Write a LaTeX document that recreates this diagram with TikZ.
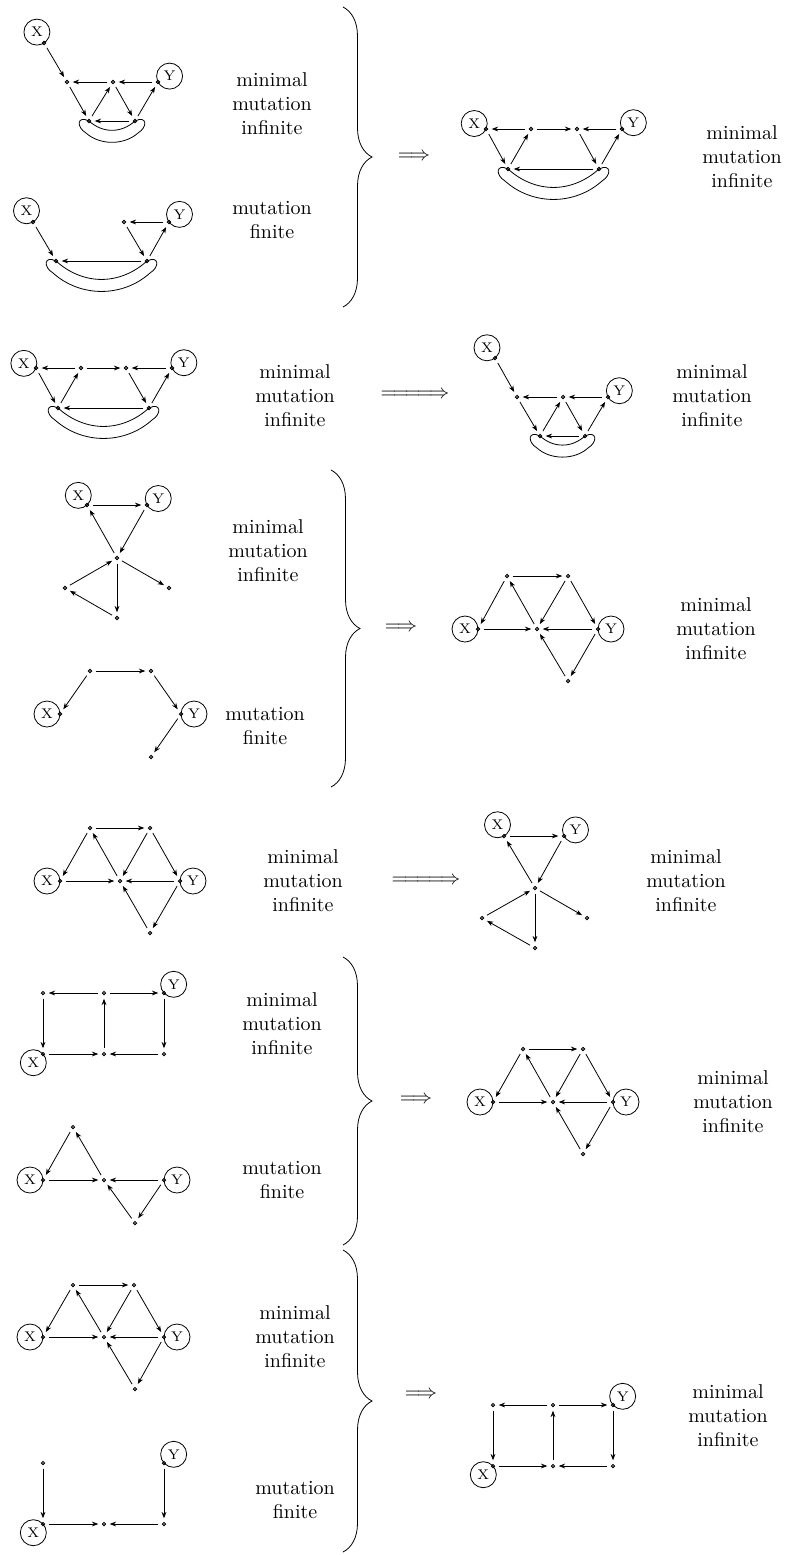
\documentclass[tikz,border=0pt]{standalone}
\usepackage{amsmath}
\usepackage{amssymb}
\usepackage{tikz}
\usetikzlibrary{arrows.meta, calc, decorations.pathreplacing}

\tikzset{
  vx/.style={circle, draw, fill=gray!70, inner sep=0pt, minimum size=1.7pt, outer sep=0pt},
  lbl/.style={circle, draw, inner sep=0pt, minimum size=13pt, outer sep=0pt, font=\scriptsize},
  arr/.style={-{Stealth[length=3.2pt,width=2.4pt]}, shorten >=2pt, shorten <=2pt},
  txt/.style={align=center},
  brc/.style={decorate, decoration={brace, amplitude=14.5pt}},
}

% long implication sign
\newcommand{\longimp}{\Relbar\joinrel\Relbar\joinrel\Relbar\joinrel\Longrightarrow}

% band below two vertices: left, right, distance in px
\newcommand{\band}[3]{%
  \draw (#1.center) .. controls +(0.3*#3,0.27*#3) and +(-0.3*#3,0.27*#3) .. (#2.center)
    .. controls +(12,-6) and +(10,-6) .. ([shift={(3,12)}]#2.center)
    .. controls +(-0.3*#3,0.27*#3) and +(0.3*#3,0.27*#3) .. ([shift={(-3,12)}]#1.center)
    .. controls +(-10,-6) and +(-12,-6) .. (#1.center);}

\begin{document}
\begin{tikzpicture}[x=0.5pt, y=-0.5pt]
    \useasboundingbox (0,0) rectangle (790,1555);

    % ---------- first block ----------
    % quiver 1
    \node[vx] (x1) at (44,43) {};
    \node[vx] (a1) at (67,82) {};
    \node[vx] (b1) at (113,82) {};
    \node[vx] (y1) at (158,82) {};
    \node[vx] (c1) at (89,121) {};
    \node[vx] (d1) at (135,121) {};
    \node[lbl, anchor=-57] (X1) at (x1) {X};
    \node[lbl, anchor=207] (Y1) at (y1) {Y};
    \draw[arr] (x1) -- (a1);
    \draw[arr] (b1) -- (a1);
    \draw[arr] (y1) -- (b1);
    \draw[arr] (a1) -- (c1);
    \draw[arr] (c1) -- (b1);
    \draw[arr] (b1) -- (d1);
    \draw[arr] (d1) -- (y1);
    \draw[arr] (d1) -- (c1);
    \band{c1}{d1}{46}
    \node[txt] (t1) at (272,104) {minimal\\mutation\\infinite};

    % quiver 2
    \node[vx] (x2) at (33,222) {};
    \node[vx] (e2) at (124,222) {};
    \node[vx] (y2) at (169,222) {};
    \node[vx] (c2) at (56,261) {};
    \node[vx] (d2) at (147,261) {};
    \node[lbl, anchor=-60] (X2) at (x2) {X};
    \node[lbl, anchor=216] (Y2) at (y2) {Y};
    \draw[arr] (x2) -- (c2);
    \draw[arr] (y2) -- (e2);
    \draw[arr] (e2) -- (d2);
    \draw[arr] (d2) -- (y2);
    \draw[arr] (d2) -- (c2);
    \band{c2}{d2}{91}
    \node[txt] (t2) at (272,220) {mutation\\finite};

    \draw[brc] (343,7) -- (343,307);
    \node (i1) at (414,157) {$\Longrightarrow$};

    % quiver 3
    \node[vx] (x3) at (486,129) {};
    \node[vx] (f3) at (531,129) {};
    \node[vx] (g3) at (577,129) {};
    \node[vx] (y3) at (622,129) {};
    \node[vx] (c3) at (508,169) {};
    \node[vx] (d3) at (599,169) {};
    \node[lbl, anchor=-25] (X3) at (x3) {X};
    \node[lbl, anchor=209] (Y3) at (y3) {Y};
    \draw[arr] (f3) -- (x3);
    \draw[arr] (f3) -- (g3);
    \draw[arr] (y3) -- (g3);
    \draw[arr] (x3) -- (c3);
    \draw[arr] (c3) -- (f3);
    \draw[arr] (g3) -- (d3);
    \draw[arr] (d3) -- (y3);
    \draw[arr] (d3) -- (c3);
    \band{c3}{d3}{91}
    \node[txt] (t3) at (742,157) {minimal\\mutation\\infinite};

    % ---------- second block ----------
    % quiver 4
    \node[vx] (x4) at (36,368) {};
    \node[vx] (f4) at (81,368) {};
    \node[vx] (g4) at (126,368) {};
    \node[vx] (y4) at (172,368) {};
    \node[vx] (c4) at (58,408) {};
    \node[vx] (d4) at (149,408) {};
    \node[lbl, anchor=-21] (X4) at (x4) {X};
    \node[lbl, anchor=204] (Y4) at (y4) {Y};
    \draw[arr] (f4) -- (x4);
    \draw[arr] (f4) -- (g4);
    \draw[arr] (y4) -- (g4);
    \draw[arr] (x4) -- (c4);
    \draw[arr] (c4) -- (f4);
    \draw[arr] (g4) -- (d4);
    \draw[arr] (d4) -- (y4);
    \draw[arr] (d4) -- (c4);
    \band{c4}{d4}{91}
    \node[txt] (t4) at (295,396) {minimal\\mutation\\infinite};

    \node (i2) at (415,395) {$\longimp$};

    % quiver 5
    \node[vx] (x5) at (495,358) {};
    \node[vx] (a5) at (517,397) {};
    \node[vx] (b5) at (563,397) {};
    \node[vx] (y5) at (608,397) {};
    \node[vx] (c5) at (540,436) {};
    \node[vx] (d5) at (585,436) {};
    \node[lbl, anchor=-52] (X5) at (x5) {X};
    \node[lbl, anchor=209] (Y5) at (y5) {Y};
    \draw[arr] (x5) -- (a5);
    \draw[arr] (b5) -- (a5);
    \draw[arr] (y5) -- (b5);
    \draw[arr] (a5) -- (c5);
    \draw[arr] (c5) -- (b5);
    \draw[arr] (b5) -- (d5);
    \draw[arr] (d5) -- (y5);
    \draw[arr] (d5) -- (c5);
    \band{c5}{d5}{45}
    \node[txt] (t5) at (712,396) {minimal\\mutation\\infinite};

    % ---------- third block ----------
    % quiver 6
    \node[vx] (x6) at (87,505) {};
    \node[vx] (y6) at (147,505) {};
    \node[vx] (m6) at (117,558) {};
    \node[vx] (l6) at (65,588) {};
    \node[vx] (r6) at (169,588) {};
    \node[vx] (w6) at (117,618) {};
    \node[lbl, anchor=-48] (X6) at (x6) {X};
    \node[lbl, anchor=210] (Y6) at (y6) {Y};
    \draw[arr] (x6) -- (y6);
    \draw[arr] (y6) -- (m6);
    \draw[arr] (m6) -- (x6);
    \draw[arr] (l6) -- (m6);
    \draw[arr] (m6) -- (r6);
    \draw[arr] (m6) -- (w6);
    \draw[arr] (w6) -- (l6);
    \node[txt] (t6) at (268,551) {minimal\\mutation\\infinite};

    % quiver 7
    \node[vx] (p7) at (90,671) {};
    \node[vx] (q7) at (151,671) {};
    \node[vx] (x7) at (60,714) {};
    \node[vx] (y7) at (181,714) {};
    \node[vx] (s7) at (151,757) {};
    \node[lbl, anchor=0] (X7) at (x7) {X};
    \node[lbl, anchor=180] (Y7) at (y7) {Y};
    \draw[arr] (p7) -- (q7);
    \draw[arr] (p7) -- (x7);
    \draw[arr] (q7) -- (y7);
    \draw[arr] (y7) -- (s7);
    \node[txt] (t7) at (265,726) {mutation\\finite};

    \draw[brc] (331,470) -- (331,787);
    \node (i3) at (401,628) {$\Longrightarrow$};

    % quiver 8
    \node[vx] (t8) at (507,576) {};
    \node[vx] (u8) at (568,576) {};
    \node[vx] (x8) at (478,629) {};
    \node[vx] (m8) at (537,629) {};
    \node[vx] (y8) at (598,629) {};
    \node[vx] (w8) at (568,681) {};
    \node[lbl, anchor=0] (X8) at (x8) {X};
    \node[lbl, anchor=180] (Y8) at (y8) {Y};
    \draw[arr] (t8) -- (u8);
    \draw[arr] (t8) -- (x8);
    \draw[arr] (m8) -- (t8);
    \draw[arr] (u8) -- (m8);
    \draw[arr] (u8) -- (y8);
    \draw[arr] (x8) -- (m8);
    \draw[arr] (y8) -- (m8);
    \draw[arr] (y8) -- (w8);
    \draw[arr] (w8) -- (m8);
    \node[txt] (tt8) at (716,629) {minimal\\mutation\\infinite};

    % ---------- fourth block ----------
    % quiver 9
    \node[vx] (t9) at (90,828) {};
    \node[vx] (u9) at (150,828) {};
    \node[vx] (x9) at (60,881) {};
    \node[vx] (m9) at (120,881) {};
    \node[vx] (y9) at (180,881) {};
    \node[vx] (w9) at (150,933) {};
    \node[lbl, anchor=0] (X9) at (x9) {X};
    \node[lbl, anchor=180] (Y9) at (y9) {Y};
    \draw[arr] (t9) -- (u9);
    \draw[arr] (t9) -- (x9);
    \draw[arr] (m9) -- (t9);
    \draw[arr] (u9) -- (m9);
    \draw[arr] (u9) -- (y9);
    \draw[arr] (x9) -- (m9);
    \draw[arr] (y9) -- (m9);
    \draw[arr] (y9) -- (w9);
    \draw[arr] (w9) -- (m9);
    \node[txt] (tt9) at (303,881) {minimal\\mutation\\infinite};

    \node (i4) at (426,881) {$\longimp$};

    % quiver 10
    \node[vx] (x10) at (504,836) {};
    \node[vx] (y10) at (564,836) {};
    \node[vx] (m10) at (535,888) {};
    \node[vx] (l10) at (482,918) {};
    \node[vx] (r10) at (587,918) {};
    \node[vx] (w10) at (535,948) {};
    \node[lbl, anchor=-60] (X10) at (x10) {X};
    \node[lbl, anchor=208] (Y10) at (y10) {Y};
    \draw[arr] (x10) -- (y10);
    \draw[arr] (y10) -- (m10);
    \draw[arr] (m10) -- (x10);
    \draw[arr] (l10) -- (m10);
    \draw[arr] (m10) -- (r10);
    \draw[arr] (m10) -- (w10);
    \draw[arr] (w10) -- (l10);
    \node[txt] (tt10) at (686,881) {minimal\\mutation\\infinite};

    % ---------- fifth block ----------
    % quiver 11
    \node[vx] (k11) at (43,993) {};
    \node[vx] (n11) at (104,993) {};
    \node[vx] (y11) at (164,993) {};
    \node[vx] (x11) at (43,1054) {};
    \node[vx] (m11) at (104,1054) {};
    \node[vx] (r11) at (164,1054) {};
    \node[lbl, anchor=42] (X11) at (x11) {X};
    \node[lbl, anchor=222] (Y11) at (y11) {Y};
    \draw[arr] (n11) -- (k11);
    \draw[arr] (n11) -- (y11);
    \draw[arr] (k11) -- (x11);
    \draw[arr] (m11) -- (n11);
    \draw[arr] (y11) -- (r11);
    \draw[arr] (x11) -- (m11);
    \draw[arr] (r11) -- (m11);
    \node[txt] (tt11) at (282,1024) {minimal\\mutation\\infinite};

    % quiver 12
    \node[vx] (t12) at (73,1127) {};
    \node[vx] (x12) at (43,1180) {};
    \node[vx] (m12) at (104,1180) {};
    \node[vx] (y12) at (164,1180) {};
    \node[vx] (w12) at (135,1223) {};
    \node[lbl, anchor=0] (X12) at (x12) {X};
    \node[lbl, anchor=180] (Y12) at (y12) {Y};
    \draw[arr] (t12) -- (x12);
    \draw[arr] (m12) -- (t12);
    \draw[arr] (x12) -- (m12);
    \draw[arr] (y12) -- (m12);
    \draw[arr] (y12) -- (w12);
    \draw[arr] (w12) -- (m12);
    \node[txt] (tt12) at (282,1180) {mutation\\finite};

    \draw[brc] (343,957) -- (343,1245);
    \node (i5) at (416,1100) {$\Longrightarrow$};

    % quiver 13
    \node[vx] (t13) at (523,1049) {};
    \node[vx] (u13) at (583,1049) {};
    \node[vx] (x13) at (493,1102) {};
    \node[vx] (m13) at (553,1102) {};
    \node[vx] (y13) at (613,1102) {};
    \node[vx] (w13) at (583,1154) {};
    \node[lbl, anchor=0] (X13) at (x13) {X};
    \node[lbl, anchor=180] (Y13) at (y13) {Y};
    \draw[arr] (t13) -- (u13);
    \draw[arr] (t13) -- (x13);
    \draw[arr] (m13) -- (t13);
    \draw[arr] (u13) -- (m13);
    \draw[arr] (u13) -- (y13);
    \draw[arr] (x13) -- (m13);
    \draw[arr] (y13) -- (m13);
    \draw[arr] (y13) -- (w13);
    \draw[arr] (w13) -- (m13);
    \node[txt] (tt13) at (733,1102) {minimal\\mutation\\infinite};

    % ---------- sixth block ----------
    % quiver 14
    \node[vx] (t14) at (73,1285) {};
    \node[vx] (u14) at (134,1285) {};
    \node[vx] (x14) at (43,1337) {};
    \node[vx] (m14) at (104,1337) {};
    \node[vx] (y14) at (164,1337) {};
    \node[vx] (w14) at (135,1389) {};
    \node[lbl, anchor=0] (X14) at (x14) {X};
    \node[lbl, anchor=180] (Y14) at (y14) {Y};
    \draw[arr] (t14) -- (u14);
    \draw[arr] (t14) -- (x14);
    \draw[arr] (m14) -- (t14);
    \draw[arr] (u14) -- (m14);
    \draw[arr] (u14) -- (y14);
    \draw[arr] (x14) -- (m14);
    \draw[arr] (y14) -- (m14);
    \draw[arr] (y14) -- (w14);
    \draw[arr] (w14) -- (m14);
    \node[txt] (tt14) at (295,1337) {minimal\\mutation\\infinite};

    % quiver 15
    \node[vx] (k15) at (43,1463) {};
    \node[vx] (y15) at (164,1463) {};
    \node[vx] (x15) at (43,1524) {};
    \node[vx] (m15) at (104,1524) {};
    \node[vx] (r15) at (164,1524) {};
    \node[lbl, anchor=42] (X15) at (x15) {X};
    \node[lbl, anchor=222] (Y15) at (y15) {Y};
    \draw[arr] (k15) -- (x15);
    \draw[arr] (y15) -- (r15);
    \draw[arr] (x15) -- (m15);
    \draw[arr] (r15) -- (m15);
    \node[txt] (tt15) at (295,1500) {mutation\\finite};

    \draw[brc] (343,1250) -- (343,1552);
    \node (i6) at (421,1395) {$\Longrightarrow$};

    % quiver 16
    \node[vx] (k16) at (493,1405) {};
    \node[vx] (n16) at (553,1405) {};
    \node[vx] (y16) at (613,1405) {};
    \node[vx] (x16) at (493,1466) {};
    \node[vx] (m16) at (553,1466) {};
    \node[vx] (r16) at (613,1466) {};
    \node[lbl, anchor=42] (X16) at (x16) {X};
    \node[lbl, anchor=222] (Y16) at (y16) {Y};
    \draw[arr] (n16) -- (k16);
    \draw[arr] (n16) -- (y16);
    \draw[arr] (k16) -- (x16);
    \draw[arr] (m16) -- (n16);
    \draw[arr] (y16) -- (r16);
    \draw[arr] (x16) -- (m16);
    \draw[arr] (r16) -- (m16);
    \node[txt] (tt16) at (728,1416) {minimal\\mutation\\infinite};
\end{tikzpicture}
\end{document}
